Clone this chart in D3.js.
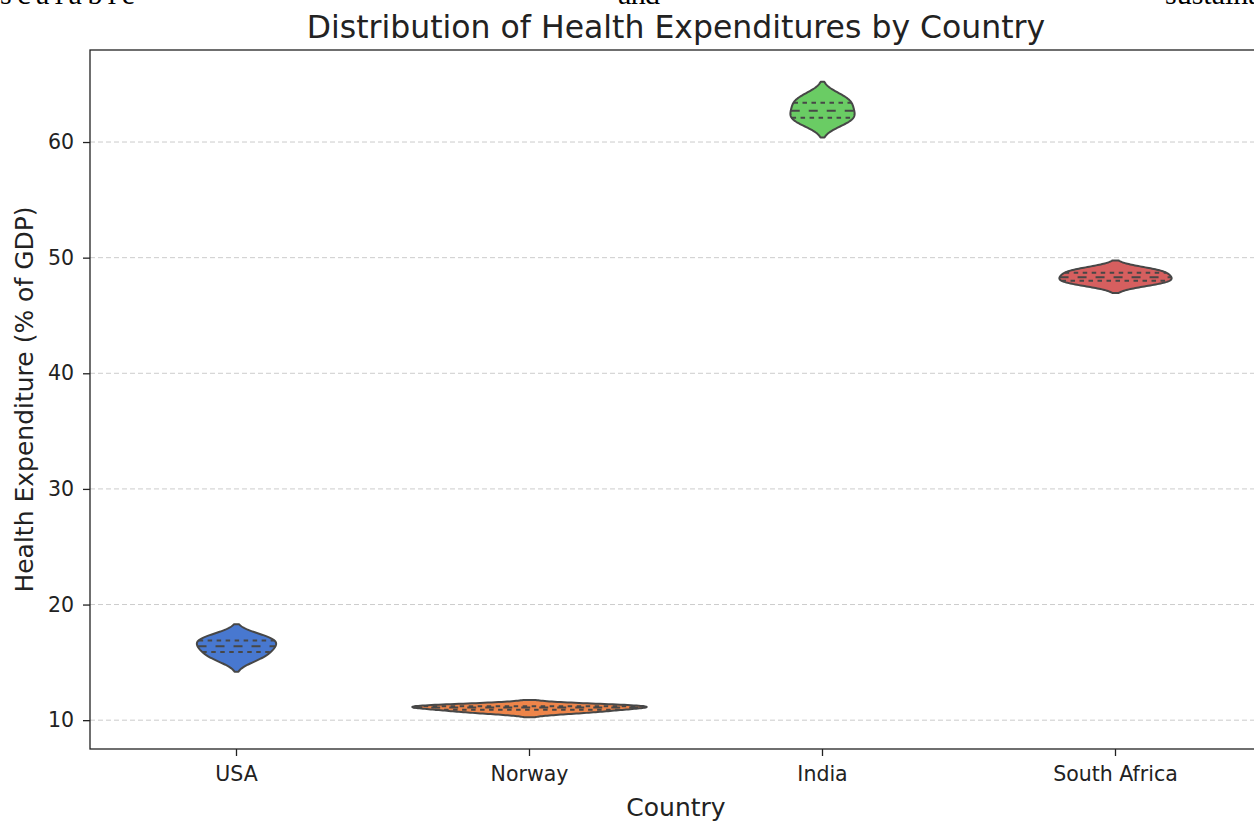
<!DOCTYPE html>
<html>
<head>
<meta charset="utf-8">
<script src="https://cdn.jsdelivr.net/npm/d3@7"></script>
<style>
  body { margin: 0; background: #ffffff; overflow: hidden; }
  text { font-family: "DejaVu Sans", sans-serif; }
</style>
</head>
<body>
<script>
// countries on the x axis
var countries = ["USA", "Norway", "India", "South Africa"];

// health expenditure samples per country (% of GDP)
var usaValues = [15.3, 15.9, 16.4, 16.9, 17.2];
var norwayValues = [10.65, 10.9, 11.1, 11.2, 11.35];
var indiaValues = [61.7, 62.1, 62.7, 63.4, 63.9];
var southAfricaValues = [47.7, 48.0, 48.3, 48.7, 49.0];

var yTicks = [10, 20, 30, 40, 50, 60];
var colors = ["#4878d0", "#ee854a", "#6acc64", "#d65f5f"];

var seriesList = [usaValues, norwayValues, indiaValues, southAfricaValues];

// the page this chart was cut from had some text above it
var pageWords = [
    {word: "scalable", x: 0, len: 135},
    {word: "and", x: 618, len: 42},
    {word: "sustainable", x: 1165, len: null}
];

// gaussian kde, scott bandwidth, cut = 2 (like seaborn)
function makeKde(values) {
    var n = values.length;
    var std = d3.deviation(values);
    var bw = Math.pow(n, -0.2) * std;
    var lo = d3.min(values) - 2 * bw,
        hi = d3.max(values) + 2 * bw;
    var support = d3.range(100).map(function(i) { return lo + i * (hi - lo) / 99; });
    function dens(y) {
        return d3.sum(values, function(v) {
            var u = (y - v) / bw;
            return Math.exp(-0.5 * u * u);
        }) / (n * bw * Math.sqrt(2 * Math.PI));
    }
    return {
        points: support.map(function(s) { return [s, dens(s)]; }),
        dens: dens,
        lo: lo,
        hi: hi
    };
}

var kdes = seriesList.map(makeKde);

var W = 1254, H = 821;
var margin = {top: 50, right: -8, bottom: 72, left: 90},
    width = W - margin.left - margin.right,
    height = H - margin.top - margin.bottom;

var svg = d3.select("body").append("svg")
    .attr("width", W)
    .attr("height", H);

// leftover page text, mostly cut off at the top edge
svg.selectAll(".pageword")
    .data(pageWords)
  .enter().append("text")
    .attr("class", "pageword")
    .attr("x", function(d) { return d.x; })
    .attr("y", 4)
    .attr("textLength", function(d) { return d.len; })
    .attr("lengthAdjust", "spacing")
    .style("font-family", "'Liberation Serif', serif")
    .style("font-size", "30px")
    .attr("fill", "#000")
    .text(function(d) { return d.word; });

var g = svg.append("g")
    .attr("transform", "translate(" + margin.left + "," + margin.top + ")");

// x is a band per country, y pads the violin extents by 5%
var x = d3.scaleBand()
    .domain(countries)
    .range([0, width])
    .padding(0);

var yMin = d3.min(kdes, function(k) { return k.lo; }),
    yMax = d3.max(kdes, function(k) { return k.hi; });
var pad = (yMax - yMin) * 0.05;
var y = d3.scaleLinear()
    .domain([yMin - pad, yMax + pad])
    .range([height, 0]);

// area scaling: biggest density fills 80% of the band
var maxDens = d3.max(kdes, function(k) { return d3.max(k.points, function(p) { return p[1]; }); });
var w = d3.scaleLinear()
    .domain([0, maxDens])
    .range([0, x.bandwidth() * 0.4]);

// grid
g.selectAll(".grid")
    .data(yTicks)
  .enter().append("line")
    .attr("class", "grid")
    .attr("x1", 0)
    .attr("x2", width)
    .attr("y1", function(d) { return y(d); })
    .attr("y2", function(d) { return y(d); })
    .attr("stroke", "#cccccc")
    .attr("stroke-width", 1)
    .attr("stroke-dasharray", "5,3");

var edge = "#474747";

countries.forEach(function(c, i) {
    var k = kdes[i];
    var cx = x(c) + x.bandwidth() / 2;

    var area = d3.area()
        .y(function(p) { return y(p[0]); })
        .x0(function(p) { return cx - w(p[1]); })
        .x1(function(p) { return cx + w(p[1]); });

    g.append("path")
        .datum(k.points)
        .attr("d", area)
        .attr("fill", colors[i])
        .attr("stroke", edge)
        .attr("stroke-width", 2)
        .attr("stroke-linejoin", "round");

    // quartile lines
    var sorted = seriesList[i].slice().sort(d3.ascending);
    var qs = [0.25, 0.5, 0.75];
    qs.forEach(function(q) {
        var val = d3.quantile(sorted, q);
        var half = w(k.dens(val));
        g.append("line")
            .attr("x1", cx - half)
            .attr("x2", cx + half)
            .attr("y1", y(val))
            .attr("y2", y(val))
            .attr("stroke", edge)
            .attr("stroke-width", 2)
            .attr("stroke-dasharray", q === 0.5 ? "9,9" : "4.5,4.5");
    });
});

// axes
var xAxis = g.append("g")
    .attr("transform", "translate(0," + height + ")")
    .call(d3.axisBottom(x).tickSizeOuter(0).tickSize(7).tickPadding(10));

var yAxis = g.append("g")
    .call(d3.axisLeft(y).tickValues(yTicks).tickSizeOuter(0).tickSize(7).tickPadding(9));

[xAxis, yAxis].forEach(function(a) {
    a.select(".domain").remove();
    a.selectAll("line").attr("stroke", "#222").attr("stroke-width", 1.3);
    a.selectAll("text").style("font-size", "20.5px").attr("fill", "#222");
});

// frame
g.append("rect")
    .attr("width", width)
    .attr("height", height)
    .attr("fill", "none")
    .attr("stroke", "#222")
    .attr("stroke-width", 1.3);

// labels and title
g.append("text")
    .attr("x", width / 2)
    .attr("y", height + 67)
    .style("text-anchor", "middle")
    .style("font-size", "25px")
    .attr("fill", "#222")
    .text("Country");

g.append("text")
    .attr("transform", "rotate(-90)")
    .attr("x", -height / 2)
    .attr("y", -57)
    .style("text-anchor", "middle")
    .style("font-size", "25px")
    .attr("fill", "#222")
    .text("Health Expenditure (% of GDP)");

g.append("text")
    .attr("x", width / 2)
    .attr("y", -12)
    .style("text-anchor", "middle")
    .style("font-size", "31.5px")
    .attr("fill", "#222")
    .text("Distribution of Health Expenditures by Country");
</script>
</body>
</html>
